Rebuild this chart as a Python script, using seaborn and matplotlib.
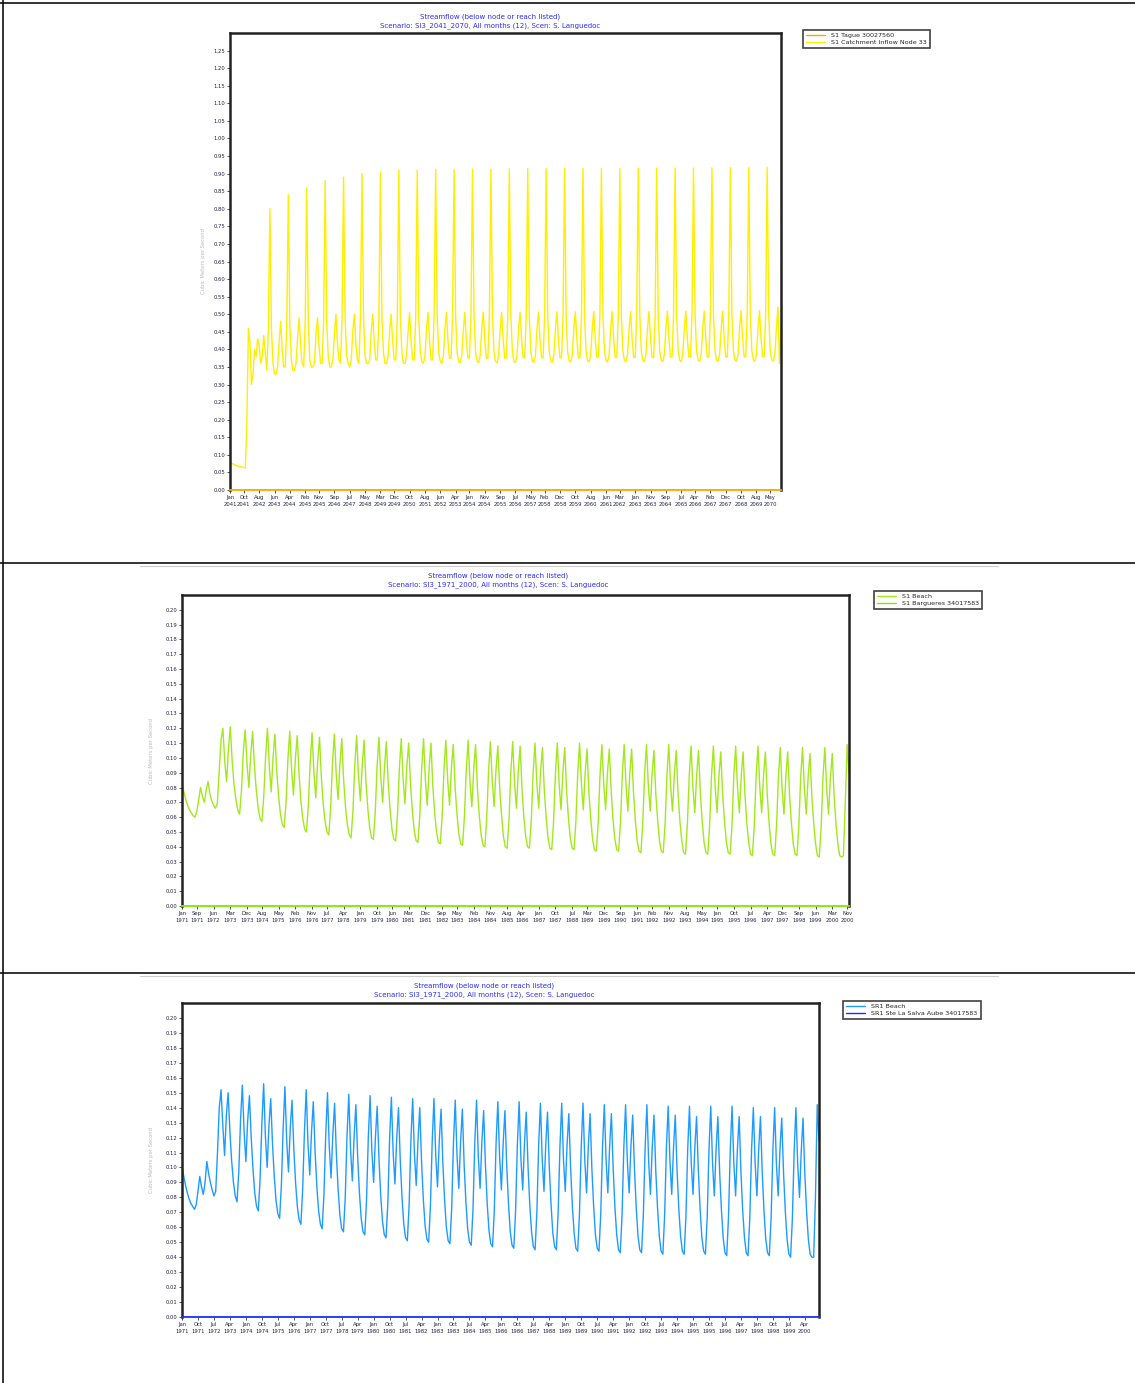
import numpy as np
import pandas as pd
import seaborn as sns
import matplotlib.pyplot as plt
from matplotlib.lines import Line2D

sns.set_theme(style="white")
plt.rcParams['font.family'] = ['DejaVu Sans']

W, H = 1135, 1383

# ---- panel 1 : 2041-2070, monthly values (one row per year)
p1_start = "2041-01"
p1_names = ["S1 Tague 30027560", "S1 Catchment Inflow Node 33"]
p1_colors = ["#ffa500", "#ffee00"]
p1_inflow = [
    [0.077, 0.076, 0.074, 0.072, 0.070, 0.068, 0.067, 0.066, 0.065, 0.064, 0.063, 0.200],
    [0.460, 0.420, 0.300, 0.330, 0.400, 0.380, 0.430, 0.410, 0.360, 0.380, 0.440, 0.390],
    [0.340, 0.460, 0.800, 0.460, 0.360, 0.330, 0.330, 0.350, 0.420, 0.480, 0.400, 0.350],
    [0.350, 0.470, 0.840, 0.470, 0.370, 0.340, 0.340, 0.360, 0.430, 0.490, 0.410, 0.360],
    [0.350, 0.480, 0.860, 0.480, 0.370, 0.350, 0.350, 0.360, 0.440, 0.490, 0.410, 0.360],
    [0.360, 0.480, 0.880, 0.480, 0.380, 0.350, 0.350, 0.370, 0.440, 0.500, 0.420, 0.370],
    [0.360, 0.490, 0.890, 0.490, 0.380, 0.360, 0.350, 0.370, 0.450, 0.500, 0.420, 0.370],
    [0.360, 0.490, 0.900, 0.490, 0.380, 0.360, 0.360, 0.370, 0.450, 0.500, 0.420, 0.370],
    [0.370, 0.490, 0.905, 0.490, 0.390, 0.360, 0.360, 0.380, 0.450, 0.500, 0.420, 0.370],
    [0.370, 0.490, 0.910, 0.490, 0.390, 0.360, 0.360, 0.380, 0.450, 0.505, 0.420, 0.370],
    [0.370, 0.495, 0.910, 0.490, 0.390, 0.365, 0.360, 0.380, 0.455, 0.505, 0.425, 0.370],
    [0.370, 0.495, 0.912, 0.495, 0.390, 0.365, 0.360, 0.380, 0.455, 0.505, 0.425, 0.375],
    [0.375, 0.495, 0.912, 0.495, 0.390, 0.365, 0.362, 0.382, 0.455, 0.505, 0.425, 0.375],
    [0.375, 0.495, 0.913, 0.495, 0.392, 0.366, 0.362, 0.382, 0.456, 0.506, 0.425, 0.375],
    [0.375, 0.496, 0.913, 0.495, 0.392, 0.366, 0.362, 0.382, 0.456, 0.506, 0.426, 0.375],
    [0.375, 0.496, 0.914, 0.496, 0.392, 0.366, 0.363, 0.383, 0.456, 0.506, 0.426, 0.376],
    [0.376, 0.496, 0.914, 0.496, 0.393, 0.367, 0.363, 0.383, 0.457, 0.507, 0.426, 0.376],
    [0.376, 0.497, 0.914, 0.496, 0.393, 0.367, 0.363, 0.383, 0.457, 0.507, 0.427, 0.376],
    [0.376, 0.497, 0.915, 0.497, 0.393, 0.367, 0.364, 0.384, 0.457, 0.507, 0.427, 0.376],
    [0.376, 0.497, 0.915, 0.497, 0.394, 0.368, 0.364, 0.384, 0.458, 0.508, 0.427, 0.377],
    [0.377, 0.497, 0.915, 0.497, 0.394, 0.368, 0.364, 0.384, 0.458, 0.508, 0.427, 0.377],
    [0.377, 0.498, 0.915, 0.497, 0.394, 0.368, 0.365, 0.385, 0.458, 0.508, 0.428, 0.377],
    [0.377, 0.498, 0.916, 0.498, 0.394, 0.368, 0.365, 0.385, 0.459, 0.508, 0.428, 0.377],
    [0.377, 0.498, 0.916, 0.498, 0.395, 0.369, 0.365, 0.385, 0.459, 0.509, 0.428, 0.378],
    [0.378, 0.498, 0.916, 0.498, 0.395, 0.369, 0.365, 0.385, 0.459, 0.509, 0.428, 0.378],
    [0.378, 0.499, 0.916, 0.498, 0.395, 0.369, 0.366, 0.386, 0.459, 0.509, 0.429, 0.378],
    [0.378, 0.499, 0.917, 0.499, 0.395, 0.369, 0.366, 0.386, 0.460, 0.509, 0.429, 0.378],
    [0.378, 0.499, 0.917, 0.499, 0.396, 0.370, 0.366, 0.386, 0.460, 0.510, 0.429, 0.379],
    [0.379, 0.499, 0.917, 0.499, 0.396, 0.370, 0.366, 0.386, 0.460, 0.510, 0.429, 0.379],
    [0.379, 0.500, 0.918, 0.500, 0.396, 0.370, 0.367, 0.387, 0.460, 0.520, 0.360, 0.460],
]
p1_tague = [[0.0] * 12 for _ in range(30)]

# ---- panel 2 : 1971-2000
p2_start = "1971-01"
p2_names = ["S1 Beach", "S1 Bargueres 34017583"]
p2_colors = ["#a2e81c", "#86e600"]
p2_beach = [
    [0.082, 0.077, 0.072, 0.068, 0.065, 0.063, 0.061, 0.060, 0.064, 0.072, 0.080, 0.074],
    [0.070, 0.078, 0.084, 0.076, 0.071, 0.068, 0.066, 0.069, 0.090, 0.112, 0.120, 0.098],
    [0.084, 0.106, 0.121, 0.098, 0.082, 0.072, 0.065, 0.062, 0.078, 0.104, 0.119, 0.096],
    [0.080, 0.102, 0.118, 0.094, 0.078, 0.066, 0.059, 0.057, 0.074, 0.101, 0.120, 0.094],
    [0.077, 0.100, 0.116, 0.091, 0.074, 0.062, 0.055, 0.053, 0.070, 0.099, 0.118, 0.092],
    [0.075, 0.099, 0.115, 0.089, 0.071, 0.059, 0.052, 0.050, 0.068, 0.097, 0.117, 0.090],
    [0.073, 0.097, 0.114, 0.087, 0.069, 0.057, 0.050, 0.048, 0.066, 0.096, 0.116, 0.089],
    [0.072, 0.096, 0.113, 0.085, 0.067, 0.055, 0.048, 0.046, 0.064, 0.095, 0.115, 0.088],
    [0.071, 0.095, 0.112, 0.084, 0.066, 0.053, 0.046, 0.045, 0.063, 0.094, 0.114, 0.087],
    [0.070, 0.094, 0.111, 0.083, 0.065, 0.052, 0.045, 0.044, 0.062, 0.093, 0.113, 0.086],
    [0.069, 0.094, 0.110, 0.082, 0.064, 0.051, 0.044, 0.043, 0.061, 0.093, 0.113, 0.085],
    [0.068, 0.093, 0.110, 0.081, 0.063, 0.050, 0.043, 0.042, 0.060, 0.092, 0.112, 0.085],
    [0.068, 0.093, 0.109, 0.080, 0.062, 0.049, 0.042, 0.041, 0.060, 0.092, 0.112, 0.084],
    [0.067, 0.092, 0.109, 0.080, 0.061, 0.048, 0.041, 0.040, 0.059, 0.091, 0.111, 0.084],
    [0.067, 0.092, 0.108, 0.079, 0.061, 0.047, 0.040, 0.039, 0.058, 0.091, 0.111, 0.083],
    [0.066, 0.091, 0.108, 0.079, 0.060, 0.047, 0.040, 0.039, 0.058, 0.090, 0.110, 0.083],
    [0.066, 0.091, 0.107, 0.078, 0.060, 0.046, 0.039, 0.038, 0.057, 0.090, 0.110, 0.082],
    [0.065, 0.090, 0.107, 0.078, 0.059, 0.046, 0.039, 0.038, 0.057, 0.090, 0.110, 0.082],
    [0.065, 0.090, 0.106, 0.077, 0.059, 0.045, 0.038, 0.037, 0.056, 0.089, 0.109, 0.082],
    [0.065, 0.090, 0.106, 0.077, 0.058, 0.045, 0.038, 0.037, 0.056, 0.089, 0.109, 0.081],
    [0.064, 0.089, 0.106, 0.077, 0.058, 0.044, 0.037, 0.036, 0.056, 0.089, 0.109, 0.081],
    [0.064, 0.089, 0.105, 0.076, 0.058, 0.044, 0.037, 0.036, 0.055, 0.088, 0.109, 0.081],
    [0.064, 0.089, 0.105, 0.076, 0.057, 0.044, 0.036, 0.035, 0.055, 0.088, 0.108, 0.080],
    [0.063, 0.088, 0.105, 0.076, 0.057, 0.043, 0.036, 0.035, 0.055, 0.088, 0.108, 0.080],
    [0.063, 0.088, 0.104, 0.075, 0.057, 0.043, 0.036, 0.035, 0.054, 0.088, 0.108, 0.080],
    [0.063, 0.088, 0.104, 0.075, 0.056, 0.043, 0.035, 0.034, 0.054, 0.087, 0.108, 0.080],
    [0.063, 0.088, 0.104, 0.075, 0.056, 0.042, 0.035, 0.034, 0.054, 0.087, 0.107, 0.079],
    [0.062, 0.087, 0.104, 0.075, 0.056, 0.042, 0.035, 0.034, 0.054, 0.087, 0.107, 0.079],
    [0.062, 0.087, 0.103, 0.074, 0.056, 0.042, 0.034, 0.033, 0.053, 0.087, 0.107, 0.079],
    [0.062, 0.087, 0.103, 0.074, 0.055, 0.042, 0.034, 0.033, 0.034, 0.070, 0.109, 0.090],
]
p2_barg = [[0.0] * 12 for _ in range(30)]

# ---- panel 3 : 1971-2000
p3_start = "1971-01"
p3_names = ["SR1 Beach", "SR1 Ste La Salva Aube 34017583"]
p3_colors = ["#1e9bff", "#1e32ff"]
p3_beach = [
    [0.101, 0.094, 0.088, 0.083, 0.079, 0.076, 0.074, 0.072, 0.075, 0.084, 0.094, 0.087],
    [0.082, 0.090, 0.104, 0.096, 0.090, 0.085, 0.081, 0.084, 0.110, 0.140, 0.152, 0.128],
    [0.108, 0.135, 0.150, 0.124, 0.104, 0.090, 0.081, 0.077, 0.097, 0.132, 0.155, 0.124],
    [0.104, 0.131, 0.148, 0.120, 0.099, 0.083, 0.074, 0.071, 0.092, 0.129, 0.156, 0.121],
    [0.100, 0.128, 0.146, 0.116, 0.094, 0.078, 0.069, 0.066, 0.088, 0.126, 0.154, 0.118],
    [0.097, 0.126, 0.145, 0.113, 0.090, 0.074, 0.065, 0.062, 0.085, 0.124, 0.152, 0.116],
    [0.095, 0.124, 0.144, 0.111, 0.087, 0.071, 0.062, 0.059, 0.082, 0.122, 0.150, 0.114],
    [0.093, 0.122, 0.143, 0.109, 0.085, 0.068, 0.059, 0.057, 0.080, 0.121, 0.149, 0.112],
    [0.091, 0.121, 0.142, 0.107, 0.083, 0.066, 0.057, 0.055, 0.078, 0.120, 0.148, 0.111],
    [0.090, 0.120, 0.141, 0.106, 0.081, 0.064, 0.055, 0.053, 0.076, 0.119, 0.147, 0.110],
    [0.089, 0.119, 0.140, 0.105, 0.080, 0.062, 0.053, 0.051, 0.075, 0.118, 0.146, 0.109],
    [0.088, 0.118, 0.140, 0.104, 0.079, 0.061, 0.052, 0.050, 0.074, 0.117, 0.146, 0.108],
    [0.087, 0.118, 0.139, 0.103, 0.078, 0.060, 0.051, 0.049, 0.073, 0.117, 0.145, 0.108],
    [0.086, 0.117, 0.139, 0.102, 0.077, 0.059, 0.050, 0.048, 0.072, 0.116, 0.145, 0.107],
    [0.086, 0.117, 0.138, 0.102, 0.076, 0.058, 0.049, 0.047, 0.071, 0.116, 0.144, 0.107],
    [0.085, 0.116, 0.138, 0.101, 0.076, 0.057, 0.048, 0.046, 0.071, 0.115, 0.144, 0.106],
    [0.085, 0.116, 0.137, 0.101, 0.075, 0.057, 0.047, 0.045, 0.070, 0.115, 0.143, 0.106],
    [0.084, 0.115, 0.137, 0.100, 0.075, 0.056, 0.047, 0.045, 0.070, 0.114, 0.143, 0.105],
    [0.084, 0.115, 0.136, 0.100, 0.074, 0.056, 0.046, 0.044, 0.069, 0.114, 0.143, 0.105],
    [0.083, 0.114, 0.136, 0.099, 0.074, 0.055, 0.046, 0.044, 0.069, 0.114, 0.142, 0.105],
    [0.083, 0.114, 0.136, 0.099, 0.073, 0.055, 0.045, 0.043, 0.068, 0.113, 0.142, 0.104],
    [0.083, 0.114, 0.135, 0.099, 0.073, 0.054, 0.045, 0.043, 0.068, 0.113, 0.142, 0.104],
    [0.082, 0.113, 0.135, 0.098, 0.073, 0.054, 0.044, 0.042, 0.068, 0.113, 0.141, 0.104],
    [0.082, 0.113, 0.135, 0.098, 0.072, 0.054, 0.044, 0.042, 0.067, 0.112, 0.141, 0.103],
    [0.082, 0.113, 0.134, 0.098, 0.072, 0.053, 0.044, 0.042, 0.067, 0.112, 0.141, 0.103],
    [0.081, 0.112, 0.134, 0.097, 0.072, 0.053, 0.043, 0.041, 0.067, 0.112, 0.141, 0.103],
    [0.081, 0.112, 0.134, 0.097, 0.071, 0.053, 0.043, 0.041, 0.066, 0.112, 0.140, 0.103],
    [0.081, 0.112, 0.134, 0.097, 0.071, 0.052, 0.043, 0.041, 0.066, 0.111, 0.140, 0.102],
    [0.081, 0.112, 0.133, 0.097, 0.071, 0.052, 0.042, 0.040, 0.066, 0.111, 0.140, 0.102],
    [0.080, 0.111, 0.133, 0.096, 0.071, 0.052, 0.042, 0.040, 0.040, 0.080, 0.142, 0.118],
]
p3_ste = [[0.0] * 12 for _ in range(30)]

title1 = "Streamflow (below node or reach listed)"
subtitles = [
    "Scenario: SI3_2041_2070, All months (12), Scen: S. Languedoc",
    "Scenario: SI3_1971_2000, All months (12), Scen: S. Languedoc",
    "Scenario: SI3_1971_2000, All months (12), Scen: S. Languedoc",
]
ylabel = "Cubic Meters per Second"

panels = [
    dict(start=p1_start, series=[p1_tague, p1_inflow], names=p1_names, colors=p1_colors,
         box=(230, 33, 781, 490), ymax=1.30, ystep=0.05, tstep=9.8,
         title_x=490, title_y=17, ylab_x=204, legend_xy=(803, 30)),
    dict(start=p2_start, series=[p2_beach, p2_barg], names=p2_names, colors=p2_colors,
         box=(182, 595, 849, 906), ymax=0.21, ystep=0.01, tstep=8.75,
         title_x=498, title_y=576, ylab_x=152, legend_xy=(874, 591)),
    dict(start=p3_start, series=[p3_beach, p3_ste], names=p3_names, colors=p3_colors,
         box=(182, 1003, 819, 1317), ymax=0.21, ystep=0.01, tstep=9,
         title_x=484, title_y=986, ylab_x=152, legend_xy=(843, 1001)),
]

fig = plt.figure(figsize=(W / 100, H / 100), dpi=100)
fs = 3.8

for p, sub in zip(panels, subtitles):
    x0, y0, x1, y1 = p["box"]
    ax = fig.add_axes([x0 / W, 1 - y1 / H, (x1 - x0) / W, (y1 - y0) / H])
    dates = pd.date_range(p["start"], periods=360, freq="MS")
    frames = []
    for name, rows in zip(p["names"], p["series"]):
        frames.append(pd.DataFrame({"month": np.arange(360),
                                    "flow": np.ravel(rows), "series": name}))
    df = pd.concat(frames)
    sns.lineplot(data=df, x="month", y="flow", hue="series", hue_order=p["names"],
                 palette=dict(zip(p["names"], p["colors"])), lw=1.0, ax=ax)
    ax.set_xlim(0, 359)
    ax.set_ylim(0, p["ymax"])
    yt = np.arange(0, p["ymax"] - p["ystep"] / 2, p["ystep"])
    ax.set_yticks(yt)
    ax.set_yticklabels([f"{v:.2f}" for v in yt], fontsize=fs, color="#222244")
    xt = np.floor(np.arange(0, 359, p["tstep"])).astype(int)
    ax.set_xticks(xt)
    ax.set_xticklabels([dates[i].strftime("%b\n%Y") for i in xt], fontsize=fs,
                       color="#222244", linespacing=1.6)
    ax.tick_params(axis="both", length=2, width=0.6, pad=1.5, color="#333333",
                   bottom=True, left=True)
    ax.set_xlabel("")
    ax.set_ylabel("")
    for s in ["left", "top", "right"]:
        ax.spines[s].set_color("#222222")
        ax.spines[s].set_linewidth(1.8)
    ax.spines["bottom"].set_color(p["colors"][0] if p is panels[0] else p["colors"][1])
    ax.spines["bottom"].set_linewidth(1.3)

    fig.text(p["title_x"] / W, 1 - p["title_y"] / H, title1, ha="center", va="center",
             fontsize=5.0, color="#2b2bff")
    fig.text(p["title_x"] / W, 1 - (p["title_y"] + 9) / H, sub, ha="center", va="center",
             fontsize=5.0, color="#2b2bff")
    fig.text(p["ylab_x"] / W, 1 - (y0 + y1) / 2 / H, ylabel, rotation=90, ha="center",
             va="center", fontsize=fs, color="#bbbbbb")

    lx, ly = p["legend_xy"]
    sns.move_legend(ax, "upper left", bbox_to_anchor=(lx / W, 1 - ly / H),
                    bbox_transform=fig.transFigure, title=None, fontsize=4.6,
                    frameon=True, fancybox=False, edgecolor="#111111",
                    handlelength=3.0, borderpad=0.45, labelspacing=0.15,
                    handletextpad=1.0, borderaxespad=0)
    leg = ax.get_legend()
    leg.get_frame().set_linewidth(1.2)

# table-like frame lines around the three panels
for (xa, ya, xb, yb, c, w) in [
    (0, 3, W, 3, "#111111", 1.2),
    (3, 0, 3, H, "#111111", 1.2),
    (0, 563, W, 563, "#111111", 1.2),
    (0, 973, W, 973, "#111111", 1.2),
    (140, 566, 998, 566, "#cccccc", 0.8),
    (140, 976, 998, 976, "#cccccc", 0.8),
]:
    fig.add_artist(Line2D([xa / W, xb / W], [1 - ya / H, 1 - yb / H],
                          transform=fig.transFigure, color=c, lw=w))

fig.savefig("out.png", dpi=100)
